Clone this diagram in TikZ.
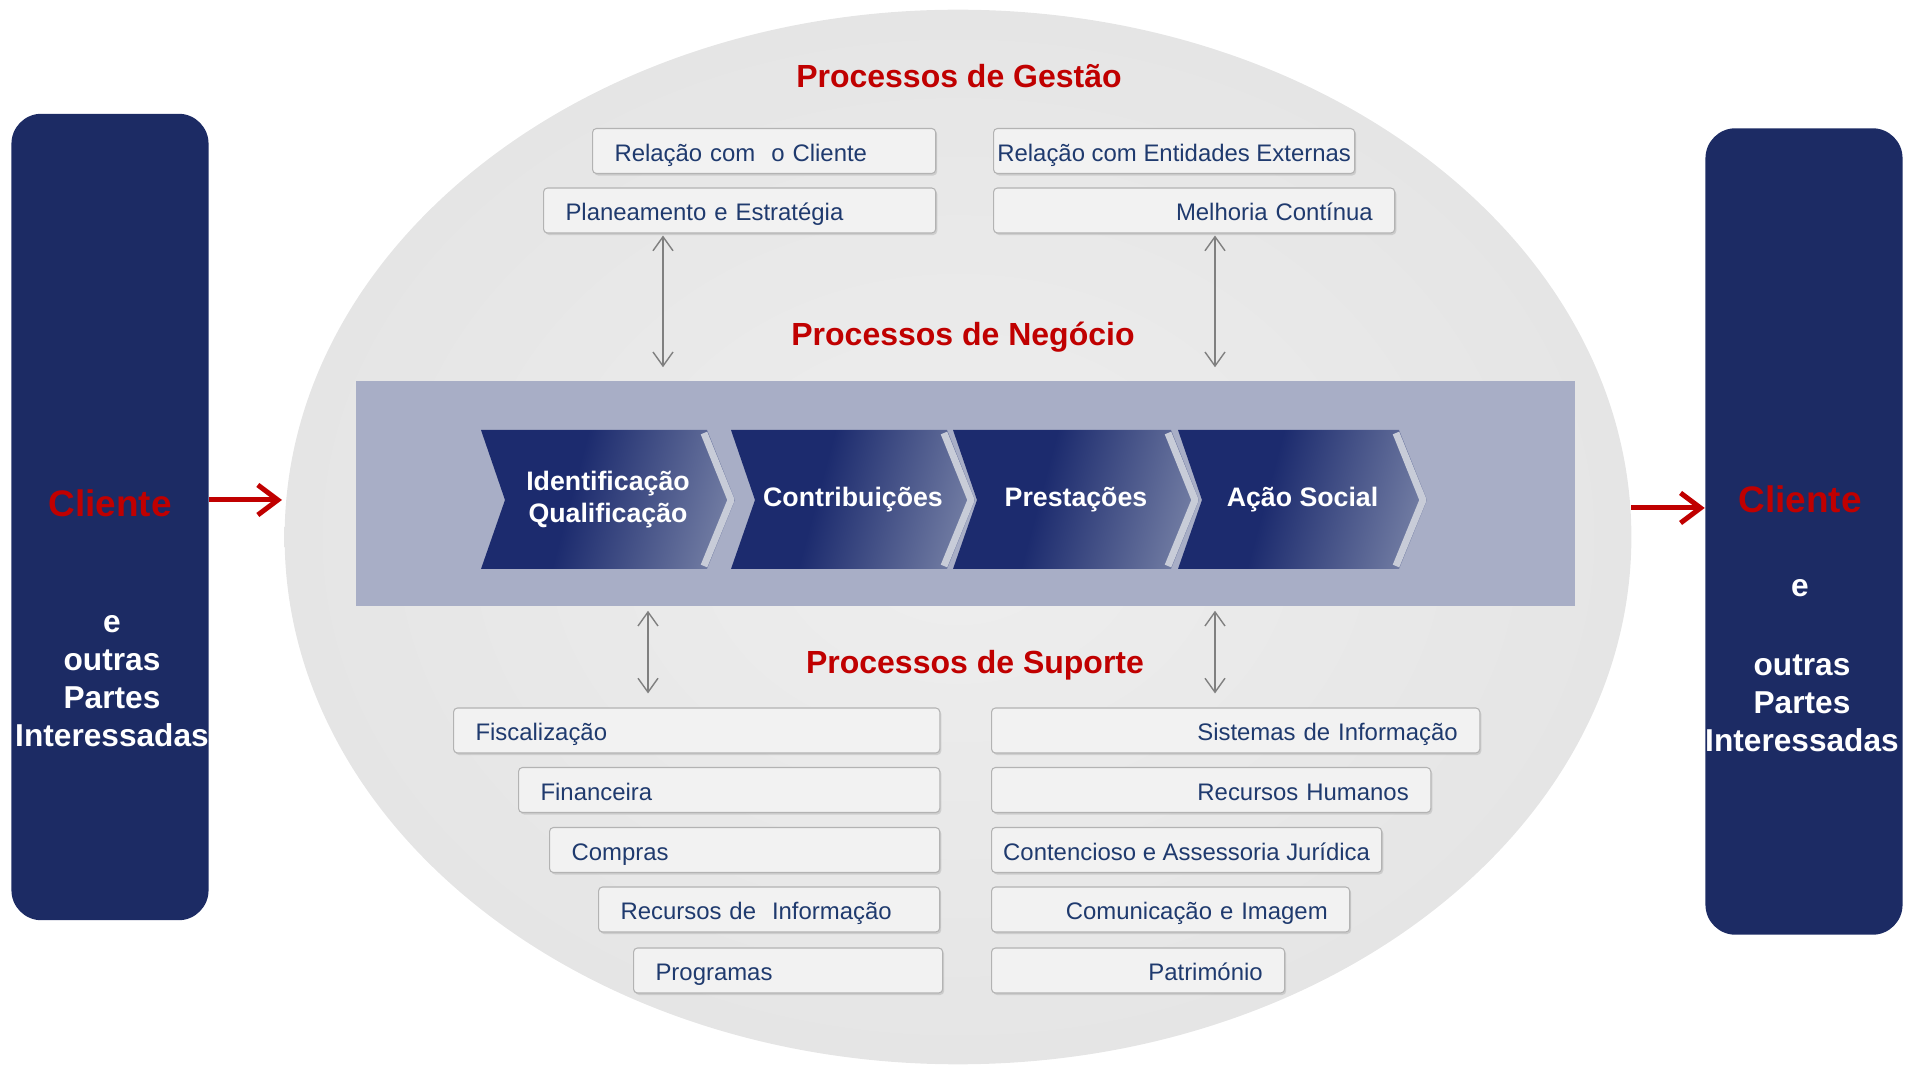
\documentclass[tikz,border=0pt]{standalone}
\usepackage{fontspec}
\setmainfont{Liberation Sans}
\usetikzlibrary{shapes.geometric,arrows.meta,positioning,calc,shadows}

\definecolor{navy}{HTML}{1C2B64}
\definecolor{cliRed}{HTML}{C00000}
\definecolor{orbitIn}{HTML}{EEEEEE}
\definecolor{orbitOut}{HTML}{E5E5E5}
\definecolor{bandCol}{HTML}{A8AEC6}
\definecolor{chevDark}{HTML}{1C2B6E}
\definecolor{chevMid}{HTML}{6D78A0}
\definecolor{chevLight}{HTML}{D3D6DF}
\definecolor{chevRim}{HTML}{C8CCD8}
\definecolor{boxFill}{HTML}{F2F2F2}
\definecolor{boxLine}{HTML}{B3B3B3}
\definecolor{boxText}{HTML}{1F3A6E}
\definecolor{linkGray}{HTML}{808080}

\pgfdeclarehorizontalshading{chevfade}{100bp}{color(0bp)=(chevDark); color(42bp)=(chevDark); color(74bp)=(chevMid); color(100bp)=(chevLight)}

\tikzset{
  pbox/.style={draw=boxLine, fill=boxFill, rounded corners=0.04cm, line width=0.3pt,
    minimum height=0.45cm, inner xsep=0.22cm, inner ysep=0pt, anchor=west,
    text height=0.21cm, text depth=0.01cm,
    font=\fontsize{6.8}{8}\selectfont, text=boxText,
    drop shadow={shadow xshift=0.015cm, shadow yshift=-0.02cm, opacity=0.25}},
  ptitle/.style={text=cliRed, font=\fontsize{9.1}{11}\selectfont\bfseries},
  chevtxt/.style={text=white, align=center, font=\fontsize{7.6}{9.1}\selectfont\bfseries},
  sidebox/.style={fill=navy, rounded corners=0.3cm, minimum width=1.97cm, minimum height=8.06cm},
  sidename/.style={text=cliRed, font=\fontsize{10.5}{12}\selectfont\bfseries},
  sidetxt/.style={text=white, align=center, font=\fontsize{9}{10.8}\selectfont\bfseries},
  linkarrow/.style={linkGray, line width=0.4pt,
    {Straight Barb[length=0.14cm,width=0.2cm]}-{Straight Barb[length=0.14cm,width=0.2cm]}},
  flowarrow/.style={cliRed, line width=0.05cm, -{Straight Barb[length=0.2cm,width=0.3cm]}}
}

\begin{document}
\begin{tikzpicture}[x=0.01cm, y=-0.01cm]
\useasboundingbox (0,0) rectangle (1923,1067);

% Big ellipse and business band
\node[ellipse, inner color=orbitIn, outer color=orbitOut, minimum width=13.46cm, minimum height=10.54cm] (orbit) at (958,537) {};
\node[fill=bandCol, minimum width=12.19cm, minimum height=2.25cm] (band) at (965.5,493.5) {};

% Chevrons
\foreach \L/\W/\nm/\txt in {481/254/idq/{Identificação\\Qualificação}, 731/244/contr/Contribuições, 953/246/prest/Prestações, 1178/249/acao/Ação Social} {
    \shade[shading=chevfade, shading angle=-15] (\L,430) -- ({\L+\W-28},430) -- ({\L+\W},500) -- ({\L+\W-28},569) -- (\L,569) -- ({\L+24},500) -- cycle;
    \draw[chevRim, line width=0.07cm, line join=round] ({\L+\W-31},433) -- ({\L+\W-4},500) -- ({\L+\W-31},566);
    \node[chevtxt] (\nm) at ({\L+\W/2},500) {\txt};
}

% Titles
\node[ptitle] (tGest) at (959,76) {Processos de Gestão};
\node[ptitle] (tNeg) at (963,337) {Processos de Negócio};
\node[ptitle] (tSup) at (975,665) {Processos de Suporte};

% Management boxes
\node[pbox, text width=2.99cm, align=left] (relCli) at (592,151) {Relação com~ o Cliente};
\node[pbox, text width=3.48cm, align=left] (plan) at (543,210.5) {Planeamento e Estratégia};
\node[pbox, minimum width=3.61cm, inner xsep=0pt] (relExt) at (993,151) {Relação com Entidades Externas};
\node[pbox, text width=3.57cm, align=right] (melh) at (993,210.5) {Melhoria Contínua};

% Support boxes, left
\node[pbox, text width=4.42cm, align=left] (fisc) at (453,730.5) {Fiscalização};
\node[pbox, text width=3.77cm, align=left] (fin) at (518,790) {Financeira};
\node[pbox, text width=3.46cm, align=left] (comp) at (549,850) {Compras};
\node[pbox, text width=2.97cm, align=left] (recInf) at (598,909.5) {Recursos de~ Informação};
\node[pbox, text width=2.65cm, align=left] (prog) at (633,970.5) {Programas};

% Support boxes, right
\node[pbox, text width=4.44cm, align=right] (sist) at (991,730.5) {Sistemas de Informação};
\node[pbox, text width=3.95cm, align=right] (rh) at (991,790) {Recursos Humanos};
\node[pbox, minimum width=3.90cm, inner xsep=0.02cm] (cont) at (991,850) {Contencioso e Assessoria Jurídica};
\node[pbox, text width=3.14cm, align=right] (com) at (991,909.5) {Comunicação e Imagem};
\node[pbox, text width=2.49cm, align=right] (patr) at (991,970.5) {Património};

% Links to the band
\coordinate (linkL) at (663,0);
\coordinate (linkR) at (1215,0);
\coordinate (linkLs) at (648,0);
\draw[linkarrow, shorten <=0.02cm, shorten >=0.13cm] (plan.south -| linkL) -- (band.north -| linkL);
\draw[linkarrow, shorten <=0.02cm, shorten >=0.13cm] (melh.south -| linkR) -- (band.north -| linkR);
\draw[linkarrow, shorten <=0.04cm, shorten >=0.14cm] (band.south -| linkLs) -- (fisc.north -| linkLs);
\draw[linkarrow, shorten <=0.04cm, shorten >=0.14cm] (band.south -| linkR) -- (sist.north -| linkR);

% Client boxes
\node[sidebox] (cliL) at (110,517) {};
\node[sidename] (cliLname) at (110,503) {Cliente};
\node[sidetxt] (cliLrest) at (112,681) {e\\outras\\Partes\\Interessadas};

\node[sidebox] (cliR) at (1804,531.5) {};
\node[sidename] (cliRname) at (1800,499) {Cliente};
\node[sidetxt] (cliRe) at (1800,588) {e};
\node[sidetxt] (cliRrest) at (1802,703) {outras\\Partes\\Interessadas};

% Flow arrows
\coordinate (inL) at (282,500);
\coordinate (outR) at (1631,508);
\draw[flowarrow] (cliL.east |- inL) -- (inL);
\draw[flowarrow] (outR) -- (cliR.west |- outR);

\end{tikzpicture}
\end{document}
